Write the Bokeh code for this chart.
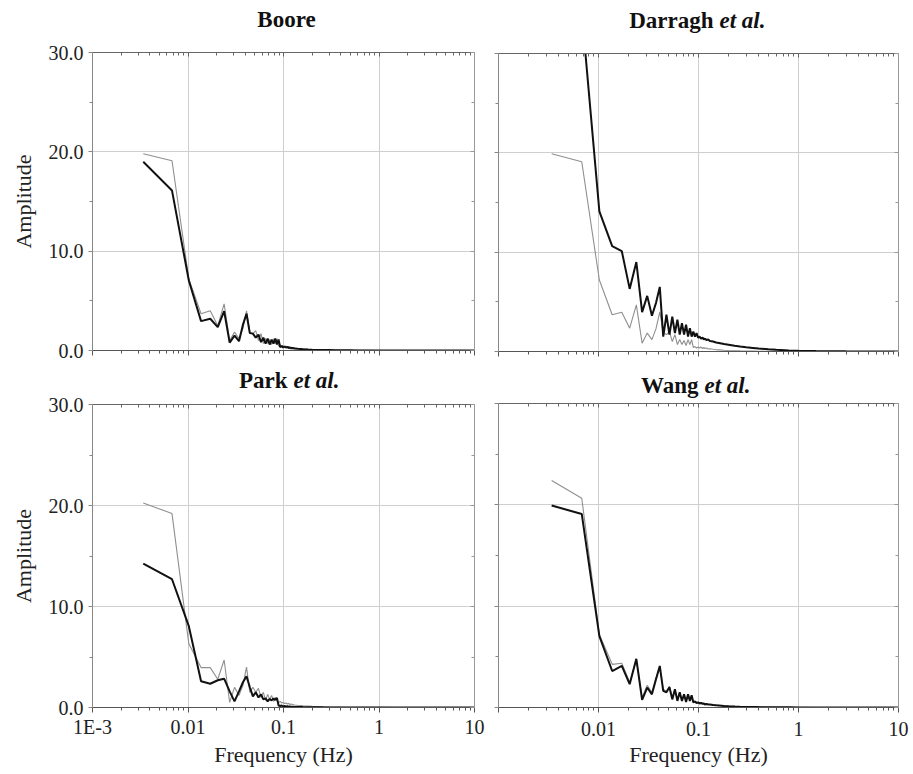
from bokeh.plotting import figure
from bokeh.layouts import column, row
from bokeh.models import Range1d, LogAxis, LinearAxis, FixedTicker, Label, NumeralTickFormatter
from bokeh.embed import file_html
from bokeh.resources import INLINE

# ---------------- data ----------------
FREQ = [0.0034, 0.0068, 0.0102, 0.0137, 0.0171, 0.0205, 0.0239, 0.0273, 0.0307, 0.0342,
        0.0376, 0.0410, 0.0444, 0.0478, 0.0512, 0.0547, 0.0581, 0.0615, 0.0649, 0.0683,
        0.0717, 0.0751, 0.0786, 0.0820, 0.0854, 0.0888, 0.0922, 0.0956, 0.0990,
        0.1025, 0.106, 0.11, 0.113, 0.116, 0.12, 0.125, 0.13, 0.14, 0.15,
        0.16, 0.18, 0.2, 0.23, 0.26, 0.3, 0.35, 0.4, 0.5, 0.6,
        0.8, 1.0, 1.5, 2.0, 3.0, 5.0, 7.0, 10.0]

boore_obs = [19.8, 19.1, 7.2, 3.7, 4.0, 2.5, 4.7, 1.0, 1.85, 1.2, 2.2, 4.0, 1.85, 1.7, 2.0,
             1.0, 1.7, 0.7, 1.2, 0.7, 1.1, 0.6, 1.2, 0.7, 1.2, 0.45, 0.6, 0.4, 0.5,
             0.35, 0.45, 0.3, 0.4, 0.3, 0.35, 0.25, 0.28, 0.22, 0.18, 0.16, 0.12, 0.1, 0.08,
             0.06, 0.05, 0.04, 0.03, 0.02, 0.015, 0.01, 0.007, 0.005, 0.003, 0.002, 0.001,
             0.001, 0.001]
boore_sim = [19.0, 16.1, 7.05, 2.96, 3.2, 2.35, 3.96, 0.8, 1.5, 0.94, 2.6, 3.7, 1.75, 1.7, 1.3,
             1.6, 0.84, 1.3, 0.7, 1.2, 0.6, 1.1, 0.7, 1.2, 0.6, 1.1, 0.34, 0.45, 0.3,
             0.4, 0.3, 0.35, 0.25, 0.3, 0.22, 0.25, 0.2, 0.17, 0.15, 0.13, 0.1, 0.08, 0.06,
             0.05, 0.04, 0.03, 0.025, 0.018, 0.012, 0.008, 0.006, 0.004, 0.003, 0.002, 0.001,
             0.001, 0.001]

darragh_obs = [19.9, 19.1, 7.2, 3.7, 3.96, 2.35, 4.7, 0.84, 1.85, 1.2, 2.3, 4.0, 1.85, 1.7, 2.0,
               1.0, 1.7, 0.7, 1.2, 0.7, 1.1, 0.6, 1.2, 0.7, 1.2, 0.4, 0.5, 0.35, 0.45,
               0.35, 0.45, 0.3, 0.4, 0.3, 0.35, 0.25, 0.28, 0.22, 0.18, 0.16, 0.12, 0.1, 0.08,
               0.06, 0.05, 0.04, 0.03, 0.02, 0.015, 0.01, 0.007, 0.005, 0.003, 0.002, 0.001,
               0.001, 0.001]
darragh_sim = [40.0, 34.2, 14.1, 10.6, 10.1, 6.3, 9.0, 3.96, 5.6, 3.6, 4.9, 6.5, 1.5, 3.7, 1.7,
               3.5, 1.85, 3.2, 1.7, 2.85, 1.7, 2.7, 1.5, 2.35, 1.5, 2.0, 1.5, 1.85, 1.4,
               1.5, 1.3, 1.4, 1.2, 1.3, 1.15, 1.2, 1.05, 1.0, 0.9, 0.85, 0.75, 0.68, 0.58,
               0.5, 0.43, 0.36, 0.3, 0.22, 0.17, 0.11, 0.08, 0.045, 0.03, 0.015, 0.008,
               0.005, 0.003]

park_obs = [20.25, 19.2, 6.3, 3.95, 3.95, 2.8, 4.7, 0.5, 2.0, 1.2, 2.2, 4.0, 1.5, 2.0, 1.5,
            1.9, 1.0, 1.5, 0.7, 1.3, 0.8, 1.2, 0.6, 1.0, 0.7, 0.5, 0.6, 0.45, 0.5,
            0.4, 0.45, 0.35, 0.4, 0.3, 0.35, 0.3, 0.25, 0.22, 0.2, 0.17, 0.14, 0.11, 0.09,
            0.07, 0.06, 0.05, 0.04, 0.03, 0.02, 0.015, 0.01, 0.006, 0.004, 0.003, 0.002,
            0.001, 0.001]
park_sim = [14.25, 12.7, 8.05, 2.6, 2.35, 2.7, 2.85, 1.6, 0.6, 1.6, 2.5, 3.1, 2.0, 1.1, 1.5,
            1.0, 1.3, 0.8, 0.9, 0.6, 0.85, 0.7, 0.9, 0.75, 0.95, 0.2, 0.15, 0.2, 0.1,
            0.15, 0.1, 0.12, 0.08, 0.1, 0.07, 0.08, 0.06, 0.05, 0.05, 0.04, 0.03, 0.025, 0.02,
            0.015, 0.012, 0.01, 0.008, 0.005, 0.004, 0.003, 0.002, 0.001, 0.001, 0.001, 0.001,
            0.001, 0.001]

wang_obs = [22.4, 20.65, 7.2, 4.26, 4.36, 2.5, 4.7, 1.0, 2.2, 1.5, 2.9, 3.9, 1.8, 1.6, 2.1,
            1.0, 1.7, 0.8, 1.5, 0.7, 1.3, 0.6, 1.3, 0.7, 1.2, 0.55, 0.6, 0.5, 0.5,
            0.45, 0.5, 0.4, 0.42, 0.35, 0.38, 0.32, 0.3, 0.27, 0.24, 0.21, 0.17, 0.14, 0.11,
            0.09, 0.07, 0.055, 0.045, 0.032, 0.022, 0.016, 0.011, 0.007, 0.005, 0.003, 0.002,
            0.001, 0.001]
wang_sim = [19.93, 19.1, 7.05, 3.6, 4.1, 2.3, 4.8, 0.75, 1.97, 1.3, 2.8, 4.1, 1.64, 1.5, 2.0,
            0.8, 1.8, 0.65, 1.5, 0.65, 1.3, 0.55, 1.3, 0.65, 1.2, 0.5, 0.6, 0.45, 0.5,
            0.4, 0.45, 0.35, 0.4, 0.3, 0.35, 0.3, 0.3, 0.25, 0.22, 0.2, 0.16, 0.13, 0.1,
            0.08, 0.06, 0.05, 0.04, 0.03, 0.02, 0.015, 0.01, 0.007, 0.005, 0.003, 0.002,
            0.001, 0.001]

X_TICKS = [0.001, 0.01, 0.1, 1, 10]
X_LABELS = ["1E-3", "0.01", "0.1", "1", "10"]
Y_TICKS = [0, 10, 20, 30]
Y_MINOR = [5, 15, 25]

TITLES = [("Boore", ""), ("Darragh", "et al."), ("Park", "et al."), ("Wang", "et al.")]

FONT = "Liberation Serif"
X_MINOR = [m * 10.0 ** e for e in range(-3, 1) for m in range(2, 10)]


def style_axis(ax, tick_in, tick_out, minor_in, minor_out, color):
    ax.major_tick_in = tick_in
    ax.major_tick_out = tick_out
    ax.minor_tick_in = minor_in
    ax.minor_tick_out = minor_out
    ax.axis_line_color = color
    ax.major_tick_line_color = color
    ax.minor_tick_line_color = color
    ax.major_label_text_font = FONT
    ax.axis_label_text_font = FONT


def hide_labels(ax, ticks):
    ax.major_label_overrides = {t: "" for t in ticks}
    ax.major_label_text_font_size = "1px"
    ax.major_label_standoff = 0


def header(width, height, bl, br, title, x_join, y_from_bottom):
    # x data coordinates equal canvas pixels of this column
    h = figure(width=width, height=height, x_range=Range1d(bl, width - br),
               y_range=Range1d(0, height),
               output_backend="svg", toolbar_location=None,
               x_axis_location=None, y_axis_location=None,
               min_border_left=bl, min_border_right=br, min_border_top=0, min_border_bottom=0)
    h.title.visible = False
    h.grid.visible = False
    h.outline_line_color = None
    main, ital = title
    y = y_from_bottom
    if ital:
        h.add_layout(Label(x=x_join, y=y, text=main, text_font=FONT, text_font_size="23px",
                           text_font_style="bold", text_align="right",
                           text_baseline="alphabetic", text_color="#111111"))
        h.add_layout(Label(x=x_join + 6, y=y, text=ital, text_font=FONT, text_font_size="23px",
                           text_font_style="bold italic", text_align="left",
                           text_baseline="alphabetic", text_color="#111111"))
    else:
        h.add_layout(Label(x=x_join, y=y, text=main, text_font=FONT, text_font_size="23px",
                           text_font_style="bold", text_align="center",
                           text_baseline="alphabetic", text_color="#111111"))
    return h


def make_panel(width, height, bl, br, bt, bb, obs, sim, show_xlabels, show_ylabels,
               hide_first_x, xl_standoff=3, xa_standoff=6):
    p = figure(width=width, height=height, x_axis_type="log",
               x_range=Range1d(1e-3, 10), y_range=Range1d(0, 30),
               output_backend="svg", toolbar_location=None,
               min_border_left=bl, min_border_right=br,
               min_border_top=bt, min_border_bottom=bb)
    p.title.visible = False
    p.outline_line_color = None
    p.background_fill_color = "white"
    p.border_fill_color = "white"

    xt = FixedTicker(ticks=X_TICKS, minor_ticks=X_MINOR)
    yt = FixedTicker(ticks=Y_TICKS, minor_ticks=Y_MINOR)

    xa = p.xaxis[0]
    xa.ticker = xt
    style_axis(xa, 0, 5, 0, 3, "#555555")
    if show_xlabels:
        labels = dict(zip(X_TICKS, X_LABELS))
        if hide_first_x:
            labels[0.001] = ""
        xa.major_label_overrides = labels
        xa.major_label_text_font_size = "20px"
        xa.major_label_text_color = "#222222"
        xa.major_label_standoff = xl_standoff
        xa.axis_label = "Frequency (Hz)"
        xa.axis_label_text_font_size = "22px"
        xa.axis_label_text_font_style = "normal"
        xa.axis_label_text_color = "#222222"
        xa.axis_label_standoff = xa_standoff
    else:
        hide_labels(xa, X_TICKS)

    ya = p.yaxis[0]
    ya.ticker = yt
    style_axis(ya, 0, 4, 0, 3, "#888888")
    if show_ylabels:
        ya.formatter = NumeralTickFormatter(format="0.0")
        ya.major_label_text_font_size = "20px"
        ya.major_label_text_color = "#222222"
        ya.major_label_standoff = 5
        ya.axis_label = "Amplitude"
        ya.axis_label_text_font_size = "22px"
        ya.axis_label_text_font_style = "normal"
        ya.axis_label_text_color = "#222222"
        ya.axis_label_standoff = 10
    else:
        hide_labels(ya, Y_TICKS)

    ta = LogAxis(ticker=FixedTicker(ticks=X_TICKS, minor_ticks=X_MINOR))
    style_axis(ta, 4, 0, 3, 0, "#666666")
    hide_labels(ta, X_TICKS)
    p.add_layout(ta, "above")

    ra = LinearAxis(ticker=FixedTicker(ticks=Y_TICKS, minor_ticks=Y_MINOR))
    style_axis(ra, 4, 0, 3, 0, "#999999")
    hide_labels(ra, Y_TICKS)
    p.add_layout(ra, "right")

    p.xgrid.ticker = xt
    p.ygrid.ticker = yt
    p.xgrid.grid_line_color = "#cfcfcf"
    p.ygrid.grid_line_color = "#cfcfcf"

    p.line(FREQ, obs, line_color="#8f8f8f", line_width=1.1)
    p.line(FREQ, sim, line_color="#111111", line_width=2.0)
    return p


# left column (frame x 92..474)
h1 = header(486, 40, 92, 12, TITLES[0], 286, 21)
p1 = make_panel(486, 330, 92, 12, 12, 20, boore_obs, boore_sim, False, True, False)
h3 = header(486, 23, 92, 12, TITLES[2], 287, 13)
p3 = make_panel(486, 381, 92, 12, 11, 67, park_obs, park_sim, True, True, False,
                xl_standoff=3, xa_standoff=1)

# right column (frame x 498..898 on the page)
h2 = header(427, 40, 12, 15, TITLES[1], 227, 20)
p2 = make_panel(427, 330, 12, 15, 13, 19, darragh_obs, darragh_sim, False, False, False)
h4 = header(427, 28, 12, 15, TITLES[3], 212, 13)
p4 = make_panel(427, 376, 12, 15, 5, 67, wang_obs, wang_sim, True, False, True,
                xl_standoff=9, xa_standoff=3)

layout = row(column(h1, p1, h3, p3), column(h2, p2, h4, p4))
open("out.html", "w").write(file_html(layout, INLINE))
